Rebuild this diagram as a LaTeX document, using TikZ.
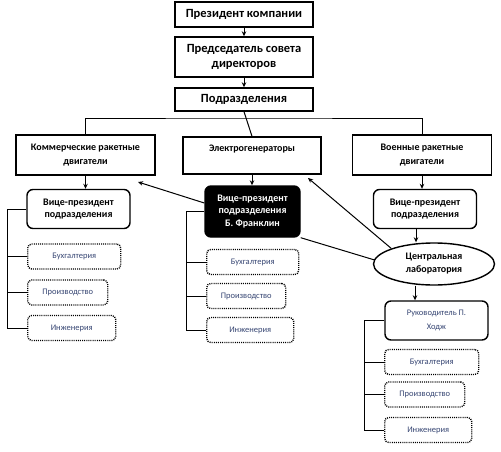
\documentclass[tikz,border=0pt]{standalone}
\usepackage{fontspec}
\setmainfont{Carlito}
\usetikzlibrary{positioning, arrows.meta, shapes.geometric}

\definecolor{subtext}{RGB}{55,70,115}

\begin{document}
\begin{tikzpicture}[
  x=1pt, y=-1pt,
  top/.style={draw, line width=1.4pt, minimum width=138pt, align=center,
    font=\bfseries\fontsize{12.5}{15}\selectfont},
  div/.style={draw, line width=1.4pt, minimum width=139pt, minimum height=40pt,
    align=center, font=\bfseries\fontsize{10}{13.5}\selectfont},
  vp/.style={draw, line width=1.4pt, rounded corners=6pt, minimum width=103pt,
    minimum height=39pt, align=center,
    font=\bfseries\fontsize{10}{12.5}\selectfont},
  sub/.style={draw, line width=1.4pt, dash pattern=on 1pt off 1.1pt,
    rounded corners=4pt, minimum height=25pt, anchor=west, text=subtext,
    font=\fontsize{8.5}{10}\selectfont},
  lab/.style={ellipse, draw, line width=1.4pt, minimum width=121pt,
    minimum height=42pt, align=center,
    font=\bfseries\fontsize{10}{13}\selectfont},
  link/.style={line width=1pt},
  arrow/.style={link, -{Stealth[length=5pt, width=4.5pt]}},
]
  \useasboundingbox (0,0) rectangle (501,452);

  % Top of the company
  \node[top, minimum height=25pt] (pres) at (244,14.5) {Президент компании};
  \node[top, minimum height=40pt] (chair) at (244,57) {Председатель совета\\директоров};
  \node[top, minimum height=23pt] (divs) at (244,99.5) {Подразделения};
  \draw[arrow] (pres) -- (chair);
  \draw[arrow] (chair) -- (divs);

  % Divisions
  \node[div] (kom) at (85.5,155) {Коммерческие ракетные\\двигатели};
  \node[div, minimum width=138pt, minimum height=37pt] (elec) at (252,155.5) {Электрогенераторы\\[2pt]~};
  \node[div] (mil) at (422,155) {Военные ракетные\\двигатели};
  \coordinate (bus) at (244,118);
  \draw[link] (kom.north) |- (bus) -| (mil.north);
  \draw[link] (divs.south) -- (elec.north);

  % Vice presidents
  \node[vp] (vpL) at (78.5,209) {Вице-президент\\подразделения};
  \node[vp, fill=black, text=white, minimum width=95pt, minimum height=51pt] (vpB) at (252.5,211.5) {Вице-президент\\подразделения\\Б. Франклин};
  \node[vp] (vpR) at (425,209) {Вице-президент\\подразделения};
  \draw[arrow] (kom.south) -- (kom.south |- vpL.north);
  \draw[arrow] (elec.south) -- (elec.south |- vpB.north);
  \draw[arrow] (mil.south) -- (mil.south |- vpR.north);

  % Central lab
  \node[lab] (lab) at (434,264) {Центральная\\лаборатория};
  \node[vp, font=\fontsize{8.5}{14}\selectfont, text=subtext] (ruk) at (436.5,320.5) {Руководитель П.\\Ходж};
  \draw[arrow] ([xshift=-9pt]vpR.south) -- ([xshift=-9pt]vpR.south |- lab.north);
  \draw[arrow] ([xshift=-19pt]lab.south) -- ([xshift=-19pt]lab.south |- ruk.north);

  % Cross links
  \coordinate (tipK) at (138,182);
  \coordinate (tipE) at (308,178);
  \draw[arrow] (vpB.170) -- (tipK);
  \draw[arrow] (lab.160) -- (tipE);
  \draw[link] (lab.176) -- (vpB.south east);

  % Departments
  \foreach \c/\x/\ya/\yb/\yc/\wa/\wb/\wc in {L/27/256.5/292.5/328/93/80/88,
      M/206/262/296/330/92/79/87, R/384/362/394.5/430/94/80/87} {
    \node[sub, minimum width=\wa pt] (b\c1) at (\x,\ya) {Бухгалтерия};
    \node[sub, minimum width=\wb pt] (b\c2) at (\x,\yb) {Производство};
    \node[sub, minimum width=\wc pt] (b\c3) at (\x,\yc) {Инженерия};
    \draw[link] (b\c1.west) -- ++(-19,0);
    \draw[link] (b\c2.west) -- ++(-19,0);
  }
  \draw[link] (vpL.west) -- ++(-19,0) |- (bL3.west);
  \draw[link] (vpB.west) -- ++(-18,0) |- (bM3.west);
  \draw[link] (ruk.west) -- ++(-20,0) |- (bR3.west);
\end{tikzpicture}
\end{document}
